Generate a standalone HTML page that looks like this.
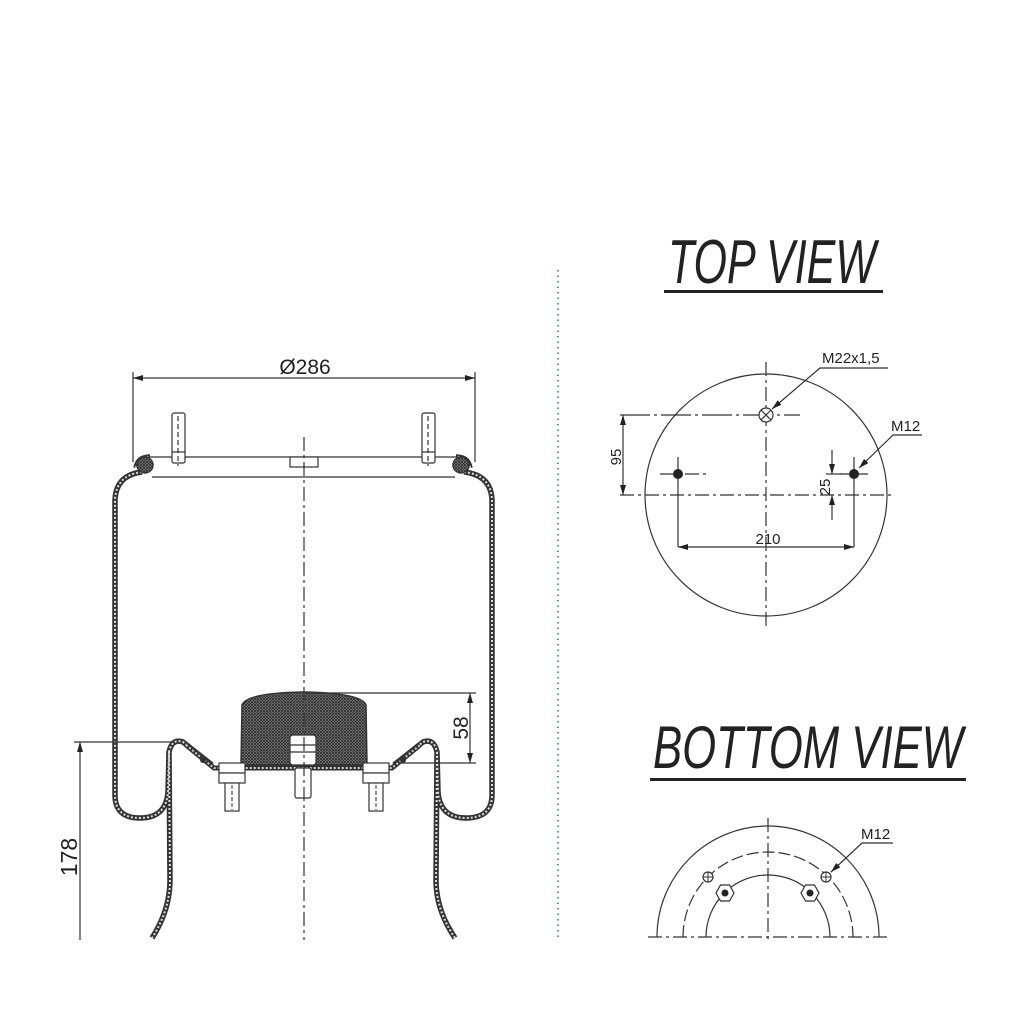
<!DOCTYPE html>
<html><head><meta charset="utf-8"><style>
html,body{margin:0;padding:0;background:#fff;}
svg{display:block;}
text{font-family:"Liberation Sans",sans-serif;fill:#222;}
</style></head><body>
<svg width="1024" height="1024" viewBox="0 0 1024 1024" xmlns="http://www.w3.org/2000/svg">
<defs>
<pattern id="xh" width="3" height="3" patternUnits="userSpaceOnUse">
<rect width="3" height="3" fill="#999"/>
<path d="M0,0L3,3M3,0L0,3" stroke="#333" stroke-width="1"/>
</pattern>
<marker id="ar" viewBox="0 0 10 6" refX="10" refY="3" markerWidth="10" markerHeight="6" orient="auto-start-reverse" markerUnits="userSpaceOnUse"><path d="M0,0L10,3L0,6Z" fill="#222"/></marker>
</defs>

<line x1="558" y1="270" x2="558" y2="940" stroke="#5a9aa8" stroke-width="2" stroke-dasharray="1.5,4"/>

<g fill="none" stroke="#333" stroke-width="1.2">
<line x1="133" y1="372" x2="133" y2="462"/>
<line x1="475" y1="372" x2="475" y2="462"/>
<line x1="133" y1="378" x2="475" y2="378" marker-start="url(#ar)" marker-end="url(#ar)"/>
<line x1="140" y1="457" x2="466" y2="457"/>
<line x1="152" y1="477" x2="455" y2="477"/>
<rect x="290" y="457" width="28" height="10" fill="#fff"/>
<rect x="172" y="413" width="13" height="50" rx="2" fill="#fff"/>
<rect x="422" y="413" width="13" height="50" rx="2" fill="#fff"/>
<line x1="178" y1="416" x2="178" y2="466" stroke-dasharray="5,3"/>
<line x1="428" y1="416" x2="428" y2="466" stroke-dasharray="5,3"/>
<line x1="172" y1="452" x2="185" y2="452"/>
<line x1="422" y1="452" x2="435" y2="452"/>
</g>
<g fill="none">
<path d="M136,468 Q138,457 150,457 M142,472 Q116,475 115,500 L115,795 Q115,818 140,818 Q166,818 168,792 L169,752 Q172,738 183,742 L212,765 M169,752 L170,880 Q170,910 152,938 M470,468 Q468,457 456,457 M464,472 Q491,475 492,500 L492,795 Q492,818 466,818 Q440,818 438,792 L437,752 Q434,738 423,742 L394,765 M437,752 L436,880 Q436,910 455,938" stroke="#333" stroke-width="5.5"/>
<path d="M136,468 Q138,457 150,457 M142,472 Q116,475 115,500 L115,795 Q115,818 140,818 Q166,818 168,792 L169,752 Q172,738 183,742 L212,765 M169,752 L170,880 Q170,910 152,938 M470,468 Q468,457 456,457 M464,472 Q491,475 492,500 L492,795 Q492,818 466,818 Q440,818 438,792 L437,752 Q434,738 423,742 L394,765 M437,752 L436,880 Q436,910 455,938" stroke="#ddd" stroke-width="2" stroke-dasharray="2,2"/>
<circle cx="145" cy="465" r="8" fill="url(#xh)" stroke="#333" stroke-width="1.5"/>
<circle cx="461" cy="465" r="8" fill="url(#xh)" stroke="#333" stroke-width="1.5"/>
</g>
<path d="M186,745 L214,768 L392,768 L420,745" fill="none" stroke="#333" stroke-width="5"/>
<path d="M186,745 L214,768 L392,768 L420,745" fill="none" stroke="#ccc" stroke-width="2" stroke-dasharray="2,2"/>
<circle cx="203" cy="760" r="3" fill="#333"/><circle cx="403" cy="760" r="3" fill="#333"/>
<path d="M241,765 L242,705 Q246,693 303,692 Q362,693 366,705 L367,765 Z" fill="url(#xh)" stroke="#333" stroke-width="1.5"/>
<g fill="#fff" stroke="#333" stroke-width="1.2">
<rect x="290" y="735" width="26" height="30" rx="3"/>
<line x1="290" y1="745" x2="316" y2="745"/><line x1="290" y1="752" x2="316" y2="752"/>
<rect x="295" y="768" width="16" height="30" rx="2"/>
<rect x="219" y="763" width="26" height="10"/><rect x="363" y="763" width="26" height="10"/>
<rect x="219" y="773" width="26" height="10"/><rect x="363" y="773" width="26" height="10"/>
<rect x="225" y="783" width="14" height="28"/><rect x="369" y="783" width="14" height="28"/>
</g>
<line x1="232" y1="785" x2="232" y2="810" stroke="#333" stroke-dasharray="4,2"/>
<line x1="376" y1="785" x2="376" y2="810" stroke="#333" stroke-dasharray="4,2"/>
<line x1="304" y1="437" x2="304" y2="940" stroke="#333" stroke-width="1.2" stroke-dasharray="14,4,3,4"/>
<g fill="none" stroke="#333" stroke-width="1.2">
<line x1="305" y1="693" x2="476" y2="693"/>
<line x1="400" y1="763" x2="476" y2="763"/>
<line x1="470" y1="693" x2="470" y2="763" marker-start="url(#ar)" marker-end="url(#ar)"/>
<line x1="74" y1="742" x2="172" y2="742"/>
<line x1="80" y1="742" x2="80" y2="940" marker-start="url(#ar)"/>
</g>
<text x="305" y="374" font-size="21" text-anchor="middle">Ø286</text>
<text transform="translate(468,728) rotate(-90)" font-size="21" text-anchor="middle">58</text>
<text transform="translate(77,857) rotate(-90)" font-size="23" text-anchor="middle">178</text>

<text x="668" y="283" font-size="62" font-style="italic" textLength="208" lengthAdjust="spacingAndGlyphs">TOP VIEW</text>
<rect x="664" y="290" width="219" height="3" fill="#222"/>
<g fill="none" stroke="#333" stroke-width="1.2">
<circle cx="766" cy="495" r="121"/>
<line x1="766" y1="362" x2="766" y2="626" stroke-dasharray="14,4,3,4"/>
<line x1="620" y1="495" x2="892" y2="495" stroke-dasharray="14,4,3,4"/>
<line x1="620" y1="415" x2="800" y2="415" stroke-dasharray="30,4,3,4"/>
<circle cx="766" cy="415" r="7" fill="#fff"/>
<path d="M761,410L771,420M771,410L761,420"/>
<line x1="623" y1="415" x2="623" y2="495" marker-start="url(#ar)" marker-end="url(#ar)"/>
<line x1="678" y1="457" x2="678" y2="547"/><line x1="854" y1="457" x2="854" y2="547"/>
<line x1="660" y1="474" x2="706" y2="474" stroke-dasharray="14,4,3,4"/>
<line x1="840" y1="474" x2="868" y2="474"/>
<line x1="678" y1="547" x2="854" y2="547" marker-start="url(#ar)" marker-end="url(#ar)"/>
<line x1="826" y1="474" x2="842" y2="474"/>
<line x1="832" y1="450" x2="832" y2="474" marker-end="url(#ar)"/>
<line x1="832" y1="520" x2="832" y2="495" marker-end="url(#ar)"/>
<path d="M888,368 L820,368 L772,409" marker-end="url(#ar)"/>
<path d="M922,435 L893,435 L859,468" marker-end="url(#ar)"/>
</g>
<circle cx="678" cy="474" r="5" fill="#222"/>
<circle cx="854" cy="474" r="5" fill="#222"/>
<text x="822" y="363" font-size="15">M22x1,5</text>
<text x="891" y="431" font-size="15">M12</text>
<text transform="translate(621,457) rotate(-90)" font-size="15" text-anchor="middle">95</text>
<text transform="translate(830,487) rotate(-90)" font-size="15" text-anchor="middle">25</text>
<text x="768" y="544" font-size="15" text-anchor="middle">210</text>

<text x="653" y="768" font-size="60" font-style="italic" textLength="310" lengthAdjust="spacingAndGlyphs">BOTTOM VIEW</text>
<rect x="650" y="778" width="316" height="3" fill="#222"/>
<g fill="none" stroke="#333" stroke-width="1.2">
<path d="M657,937 A111,111 0 0 1 879,937"/>
<path d="M683,937 A85,85 0 0 1 853,937" stroke-dasharray="12,4"/>
<path d="M706,937 A62,62 0 0 1 830,937"/>
<line x1="768" y1="818" x2="768" y2="940" stroke-dasharray="14,4,3,4"/>
<line x1="648" y1="937" x2="888" y2="937" stroke-dasharray="14,4,3,4"/>
<circle cx="708" cy="877" r="5" fill="#fff"/><circle cx="826" cy="877" r="5" fill="#fff"/>
<polygon points="734,893 729.5,901 720.5,901 716,893 720.5,885 729.5,885" fill="#fff"/>
<polygon points="819,893 814.5,901 805.5,901 801,893 805.5,885 814.5,885" fill="#fff"/>
<path d="M893,843 L862,843 L831,872" marker-end="url(#ar)"/>
</g>
<circle cx="725" cy="893" r="3.5" fill="#222"/><circle cx="810" cy="893" r="3.5" fill="#222"/>
<path d="M703,877h10M708,872v10M821,877h10M826,872v10" stroke="#333" stroke-width="1"/>
<text x="861" y="839" font-size="15">M12</text>
</svg>
</body></html>
